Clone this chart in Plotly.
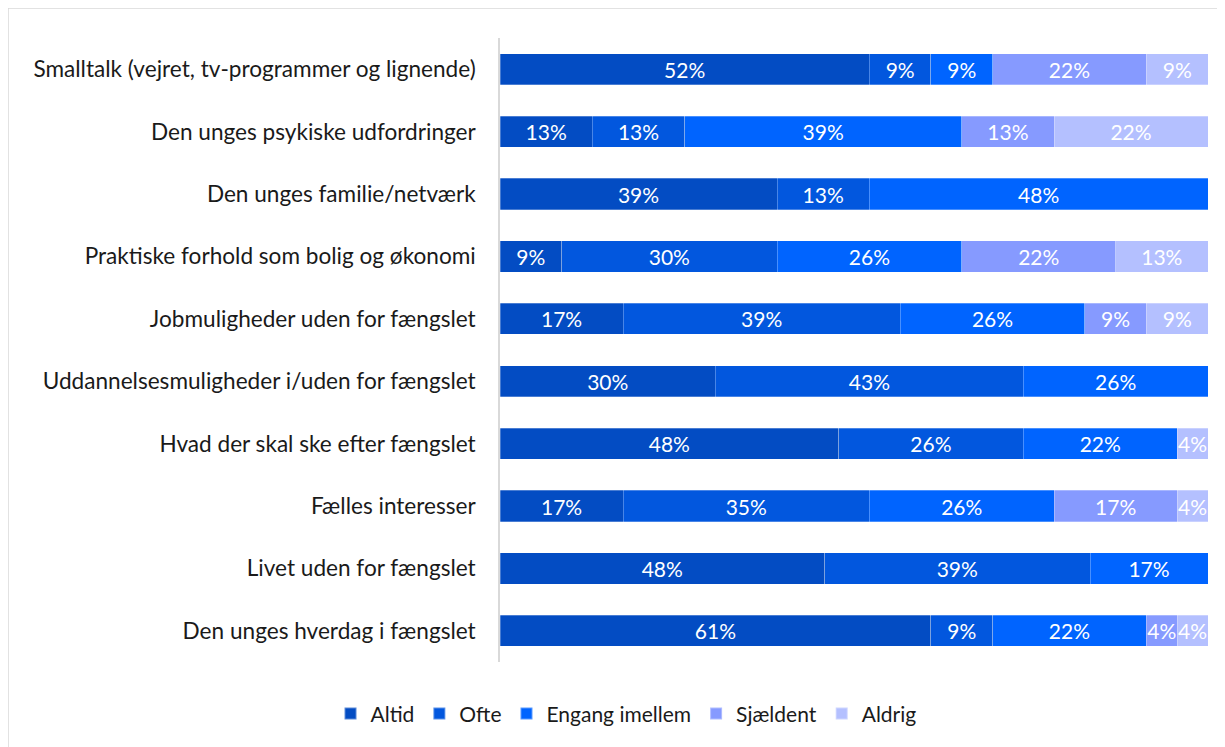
import plotly.graph_objects as go

categories = [
    "Smalltalk (vejret, tv-programmer og lignende)",
    "Den unges psykiske udfordringer",
    "Den unges familie/netværk",
    "Praktiske forhold som bolig og økonomi",
    "Jobmuligheder uden for fængslet",
    "Uddannelsesmuligheder i/uden for fængslet",
    "Hvad der skal ske efter fængslet",
    "Fælles interesser",
    "Livet uden for fængslet",
    "Den unges hverdag i fængslet",
]

series_names = ["Altid", "Ofte", "Engang imellem", "Sjældent", "Aldrig"]

altid = [52.17, 13.04, 39.13, 8.70, 17.39, 30.43, 47.83, 17.39, 47.83, 60.87]
ofte = [8.70, 13.04, 13.04, 30.43, 39.13, 43.48, 26.09, 34.78, 39.13, 8.70]
engang = [8.70, 39.13, 47.83, 26.09, 26.09, 26.09, 21.74, 26.09, 17.39, 21.74]
sjaeldent = [21.74, 13.04, 0, 21.74, 8.70, 0, 0, 17.39, 0, 4.35]
aldrig = [8.70, 21.74, 0, 13.04, 8.70, 0, 4.35, 4.35, 0, 4.35]

series_values = [altid, ofte, engang, sjaeldent, aldrig]
colors = ["#034CC3", "#0257DE", "#0064FF", "#869AFF", "#B4C0FF"]

FONT = "Lato, Open Sans, sans-serif"

fig = go.Figure()
for name, vals, col in zip(series_names, series_values, colors):
    fig.add_trace(go.Bar(
        name=name,
        y=categories,
        x=vals,
        orientation="h",
        marker=dict(color=col, line=dict(color="rgba(255,255,255,0.35)", width=0.8)),
        text=[f"{round(v)}%" if v > 0 else "" for v in vals],
        textposition="inside",
        insidetextanchor="middle",
        constraintext="none",
        textangle=0,
        textfont=dict(color="white", size=21, family=FONT),
        hoverinfo="skip",
    ))

fig.update_layout(
    barmode="stack",
    barnorm="percent",
    bargap=0.5,
    width=1217,
    height=739,
    margin=dict(l=492, r=17, t=30, b=85),
    paper_bgcolor="white",
    plot_bgcolor="white",
    font=dict(family=FONT, size=21, color="#1a1a1a"),
    xaxis=dict(range=[0, 100], showticklabels=False, showgrid=False, zeroline=False,
               showline=False, ticks=""),
    yaxis=dict(autorange="reversed", showgrid=False, zeroline=False, showline=True,
               linecolor="#D9D9D9", linewidth=1.5, ticks="", ticklabelstandoff=18,
               tickfont=dict(size=22.6, color="#1a1a1a")),
    legend=dict(orientation="h", x=0.178, xanchor="center", y=-0.083, yanchor="middle",
                font=dict(size=21), itemwidth=30, traceorder="normal",
                itemsizing="constant"),
    shapes=[dict(type="rect", xref="paper", yref="paper",
                 x0=-492 / 708, x1=(1240 - 492) / 708, y0=-0.3, y1=1 + 30 / 624,
                 line=dict(color="#D9D9D9", width=1.5), fillcolor="rgba(0,0,0,0)",
                 layer="below")],
    showlegend=True,
)

fig.write_html("out.html")
